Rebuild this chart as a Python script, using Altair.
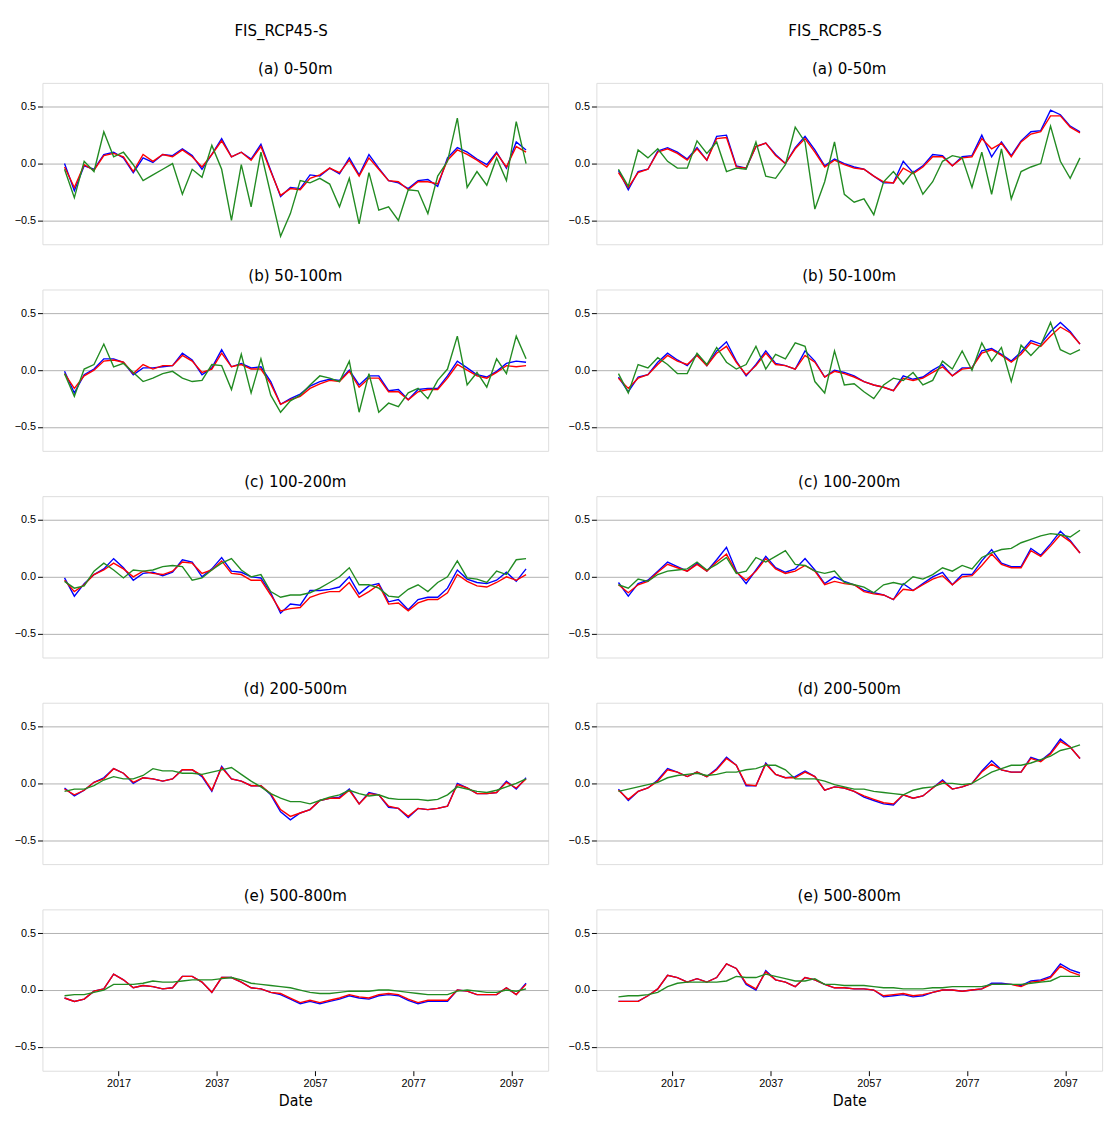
import altair as alt
import pandas as pd

years = list(range(2006, 2101, 2))

# RCP45 (left column)
r45_a_red = [-0.03, -0.21, -0.01, -0.06, 0.07, 0.09, 0.06, -0.07, 0.08, 0.02, 0.08, 0.06, 0.12, 0.06, -0.03, 0.08,
             0.2, 0.06, 0.1, 0.03, 0.15, -0.07, -0.28, -0.22, -0.23, -0.13, -0.1, -0.04, -0.08, 0.03, -0.11, 0.05,
             -0.05, -0.15, -0.16, -0.23, -0.16, -0.16, -0.18, 0.03, 0.12, 0.08, 0.03, -0.03, 0.09, -0.03, 0.15, 0.1]
r45_a_blue = [0.0, -0.24, -0.02, -0.05, 0.08, 0.1, 0.05, -0.08, 0.05, 0.01, 0.08, 0.07, 0.13, 0.07, -0.05, 0.08,
              0.22, 0.06, 0.1, 0.04, 0.17, -0.06, -0.29, -0.21, -0.22, -0.1, -0.11, -0.04, -0.09, 0.05, -0.1, 0.08,
              -0.04, -0.15, -0.17, -0.22, -0.15, -0.14, -0.2, 0.05, 0.14, 0.1, 0.04, -0.01, 0.1, -0.04, 0.19, 0.12]
r45_a_green = [-0.05, -0.3, 0.02, -0.07, 0.28, 0.06, 0.1, -0.01, -0.15, -0.1, -0.05, 0.0, -0.27, -0.05, -0.12, 0.16,
               -0.05, -0.5, -0.01, -0.38, 0.1, -0.27, -0.64, -0.44, -0.15, -0.17, -0.13, -0.18, -0.38, -0.13, -0.53,
               -0.08, -0.41, -0.38, -0.5, -0.23, -0.24, -0.44, -0.11, 0.02, 0.4, -0.21, -0.07, -0.19, 0.05, -0.15, 0.37, 0.0]

r45_b_red = [-0.03, -0.16, -0.05, 0.0, 0.08, 0.09, 0.07, -0.03, 0.05, 0.01, 0.04, 0.04, 0.13, 0.08, -0.02, 0.01,
             0.15, 0.03, 0.05, 0.01, 0.01, -0.12, -0.3, -0.26, -0.23, -0.16, -0.12, -0.09, -0.1, -0.01, -0.15, -0.07,
             -0.07, -0.19, -0.19, -0.26, -0.19, -0.17, -0.17, -0.07, 0.05, 0.0, -0.05, -0.07, -0.02, 0.04, 0.03, 0.04]
r45_b_blue = [-0.01, -0.2, -0.04, 0.01, 0.1, 0.1, 0.07, -0.04, 0.02, 0.02, 0.03, 0.04, 0.15, 0.09, -0.04, 0.02,
              0.18, 0.03, 0.06, 0.02, 0.03, -0.1, -0.3, -0.25, -0.21, -0.14, -0.1, -0.08, -0.09, 0.0, -0.13, -0.05,
              -0.05, -0.18, -0.17, -0.26, -0.17, -0.16, -0.16, -0.05, 0.08, 0.02, -0.04, -0.06, -0.01, 0.06, 0.08, 0.07]
r45_b_green = [-0.03, -0.23, 0.01, 0.05, 0.23, 0.03, 0.06, -0.02, -0.1, -0.07, -0.03, -0.01, -0.07, -0.1, -0.09, 0.05,
               0.04, -0.17, 0.14, -0.2, 0.1, -0.22, -0.37, -0.27, -0.22, -0.13, -0.05, -0.07, -0.1, 0.08, -0.37, -0.03,
               -0.37, -0.29, -0.32, -0.2, -0.16, -0.25, -0.09, 0.01, 0.3, -0.13, -0.02, -0.15, 0.1, -0.03, 0.3, 0.1]

r45_c_red = [-0.03, -0.13, -0.07, 0.02, 0.06, 0.12, 0.07, 0.0, 0.05, 0.03, 0.02, 0.05, 0.13, 0.12, 0.03, 0.06,
             0.14, 0.03, 0.02, -0.03, -0.03, -0.16, -0.3, -0.28, -0.27, -0.18, -0.15, -0.13, -0.13, -0.05, -0.18, -0.13,
             -0.07, -0.24, -0.23, -0.3, -0.23, -0.2, -0.2, -0.14, 0.02, -0.04, -0.08, -0.09, -0.05, 0.0, -0.03, 0.02]
r45_c_blue = [-0.01, -0.17, -0.06, 0.02, 0.07, 0.16, 0.08, -0.03, 0.03, 0.04, 0.01, 0.04, 0.15, 0.13, 0.0, 0.07,
              0.17, 0.05, 0.04, 0.0, -0.01, -0.14, -0.32, -0.24, -0.25, -0.12, -0.12, -0.11, -0.09, 0.0, -0.15, -0.08,
              -0.06, -0.22, -0.2, -0.29, -0.2, -0.18, -0.18, -0.1, 0.06, -0.02, -0.05, -0.06, -0.03, 0.04, -0.04, 0.07]
r45_c_green = [-0.04, -0.1, -0.08, 0.05, 0.12, 0.06, -0.01, 0.06, 0.05, 0.06, 0.09, 0.1, 0.09, -0.03, -0.01, 0.06,
               0.12, 0.16, 0.06, 0.0, 0.02, -0.13, -0.18, -0.16, -0.16, -0.14, -0.1, -0.05, 0.0, 0.08, -0.07, -0.07,
               -0.1, -0.17, -0.18, -0.11, -0.07, -0.13, -0.05, 0.0, 0.14, -0.01, -0.02, -0.05, 0.05, 0.02, 0.15, 0.16]

r45_d_red = [-0.05, -0.1, -0.06, 0.01, 0.04, 0.13, 0.09, 0.01, 0.05, 0.04, 0.02, 0.04, 0.12, 0.12, 0.07, -0.06,
             0.14, 0.04, 0.02, -0.02, -0.02, -0.09, -0.23, -0.29, -0.26, -0.23, -0.15, -0.13, -0.13, -0.06, -0.18, -0.09,
             -0.1, -0.2, -0.22, -0.29, -0.22, -0.23, -0.22, -0.2, -0.01, -0.04, -0.09, -0.09, -0.08, 0.01, -0.04, 0.04]
r45_d_blue = [-0.04, -0.11, -0.06, 0.01, 0.05, 0.13, 0.09, 0.0, 0.05, 0.04, 0.02, 0.04, 0.12, 0.12, 0.06, -0.07,
              0.15, 0.04, 0.02, -0.02, -0.02, -0.1, -0.25, -0.32, -0.26, -0.23, -0.15, -0.13, -0.12, -0.05, -0.18, -0.08,
              -0.1, -0.21, -0.22, -0.3, -0.22, -0.23, -0.22, -0.2, 0.0, -0.04, -0.09, -0.09, -0.08, 0.02, -0.05, 0.05]
r45_d_green = [-0.07, -0.05, -0.05, -0.02, 0.03, 0.06, 0.04, 0.04, 0.07, 0.13, 0.11, 0.11, 0.09, 0.09, 0.08, 0.1,
               0.12, 0.14, 0.08, 0.02, -0.03, -0.09, -0.13, -0.16, -0.16, -0.18, -0.15, -0.12, -0.1, -0.06, -0.09, -0.11,
               -0.1, -0.13, -0.14, -0.14, -0.14, -0.15, -0.14, -0.1, -0.03, -0.05, -0.07, -0.08, -0.06, -0.03, 0.0, 0.04]

r45_e_red = [-0.07, -0.1, -0.08, -0.01, 0.01, 0.14, 0.09, 0.02, 0.04, 0.03, 0.01, 0.02, 0.12, 0.12, 0.07, -0.02,
             0.11, 0.11, 0.07, 0.02, 0.01, -0.02, -0.03, -0.07, -0.11, -0.09, -0.11, -0.09, -0.07, -0.04, -0.06, -0.07,
             -0.04, -0.03, -0.04, -0.08, -0.11, -0.09, -0.09, -0.09, 0.0, -0.01, -0.04, -0.04, -0.04, 0.02, -0.04, 0.05]
r45_e_blue = [-0.07, -0.1, -0.08, -0.01, 0.01, 0.14, 0.09, 0.02, 0.04, 0.03, 0.01, 0.02, 0.12, 0.12, 0.07, -0.02,
              0.11, 0.11, 0.07, 0.02, 0.01, -0.02, -0.04, -0.08, -0.12, -0.1, -0.12, -0.1, -0.08, -0.05, -0.07, -0.08,
              -0.05, -0.04, -0.05, -0.09, -0.12, -0.1, -0.1, -0.1, 0.0, -0.01, -0.04, -0.04, -0.04, 0.02, -0.04, 0.06]
r45_e_green = [-0.05, -0.04, -0.04, -0.02, 0.0, 0.05, 0.05, 0.05, 0.06, 0.08, 0.07, 0.07, 0.08, 0.09, 0.09, 0.09,
               0.1, 0.11, 0.09, 0.06, 0.05, 0.04, 0.03, 0.02, 0.0, -0.02, -0.03, -0.03, -0.02, -0.01, -0.01, -0.01,
               0.0, 0.0, -0.01, -0.02, -0.03, -0.04, -0.04, -0.04, -0.01, 0.0, -0.01, -0.02, -0.02, 0.0, -0.01, 0.01]

# RCP85 (right column)
r85_a_red = [-0.08, -0.21, -0.08, -0.05, 0.1, 0.13, 0.09, 0.03, 0.13, 0.03, 0.22, 0.23, -0.03, -0.04, 0.15, 0.18,
             0.07, 0.0, 0.13, 0.22, 0.1, -0.03, 0.03, -0.01, -0.04, -0.05, -0.11, -0.16, -0.17, -0.04, -0.09, -0.03,
             0.06, 0.06, -0.02, 0.05, 0.06, 0.22, 0.13, 0.18, 0.06, 0.19, 0.26, 0.28, 0.42, 0.42, 0.32, 0.27]
r85_a_blue = [-0.06, -0.23, -0.07, -0.05, 0.11, 0.14, 0.1, 0.04, 0.14, 0.03, 0.24, 0.25, -0.02, -0.04, 0.15, 0.18,
              0.08, 0.0, 0.14, 0.24, 0.12, -0.02, 0.04, 0.0, -0.03, -0.05, -0.11, -0.17, -0.17, 0.02, -0.08, -0.02,
              0.08, 0.07, -0.02, 0.06, 0.07, 0.25, 0.06, 0.19, 0.07, 0.2, 0.28, 0.29, 0.47, 0.43, 0.33, 0.28]
r85_a_green = [-0.05, -0.2, 0.12, 0.05, 0.13, 0.02, -0.04, -0.04, 0.2, 0.09, 0.19, -0.07, -0.04, -0.05, 0.19, -0.11,
               -0.13, -0.01, 0.32, 0.19, -0.4, -0.16, 0.19, -0.27, -0.34, -0.31, -0.45, -0.16, -0.07, -0.18, -0.07, -0.27,
               -0.16, 0.02, 0.07, 0.05, -0.21, 0.1, -0.27, 0.13, -0.31, -0.07, -0.03, 0.0, 0.33, 0.02, -0.13, 0.05]

r85_b_red = [-0.07, -0.16, -0.07, -0.04, 0.05, 0.13, 0.08, 0.05, 0.13, 0.04, 0.15, 0.21, 0.07, -0.04, 0.04, 0.15,
             0.05, 0.04, 0.01, 0.13, 0.07, -0.06, -0.01, -0.03, -0.06, -0.1, -0.13, -0.15, -0.18, -0.07, -0.09, -0.07,
             -0.02, 0.03, -0.05, 0.01, 0.02, 0.15, 0.18, 0.13, 0.07, 0.14, 0.24, 0.21, 0.3, 0.38, 0.33, 0.23]
r85_b_blue = [-0.06, -0.19, -0.06, -0.04, 0.07, 0.15, 0.09, 0.04, 0.14, 0.04, 0.17, 0.25, 0.08, -0.05, 0.05, 0.17,
              0.06, 0.04, 0.01, 0.17, 0.08, -0.06, 0.0, -0.02, -0.05, -0.1, -0.13, -0.15, -0.18, -0.05, -0.08, -0.06,
              0.0, 0.05, -0.05, 0.02, 0.02, 0.17, 0.19, 0.14, 0.08, 0.16, 0.26, 0.23, 0.34, 0.42, 0.34, 0.23]
r85_b_green = [-0.03, -0.2, 0.05, 0.02, 0.11, 0.05, -0.03, -0.03, 0.15, 0.05, 0.2, 0.07, 0.01, 0.05, 0.21, 0.01,
               0.14, 0.1, 0.24, 0.21, -0.1, -0.2, 0.17, -0.13, -0.12, -0.19, -0.25, -0.13, -0.07, -0.09, -0.02, -0.13,
               -0.09, 0.08, 0.01, 0.17, 0.0, 0.24, 0.08, 0.2, -0.1, 0.22, 0.13, 0.22, 0.42, 0.18, 0.14, 0.18]

r85_c_red = [-0.07, -0.14, -0.07, -0.04, 0.04, 0.11, 0.08, 0.05, 0.11, 0.05, 0.13, 0.2, 0.04, -0.03, 0.05, 0.16,
             0.07, 0.03, 0.05, 0.1, 0.05, -0.07, -0.04, -0.06, -0.07, -0.13, -0.15, -0.16, -0.2, -0.11, -0.12, -0.07,
             -0.02, 0.01, -0.07, 0.0, 0.01, 0.1, 0.2, 0.11, 0.08, 0.08, 0.23, 0.18, 0.27, 0.37, 0.31, 0.21]
r85_c_blue = [-0.05, -0.17, -0.06, -0.03, 0.05, 0.13, 0.09, 0.05, 0.12, 0.05, 0.15, 0.26, 0.05, -0.06, 0.06, 0.18,
              0.08, 0.04, 0.07, 0.16, 0.06, -0.06, 0.0, -0.04, -0.07, -0.12, -0.14, -0.16, -0.2, -0.06, -0.12, -0.06,
              0.0, 0.04, -0.07, 0.02, 0.02, 0.14, 0.24, 0.12, 0.09, 0.09, 0.25, 0.19, 0.29, 0.4, 0.32, 0.21]
r85_c_green = [-0.07, -0.1, -0.02, -0.04, 0.02, 0.05, 0.06, 0.07, 0.13, 0.06, 0.11, 0.17, 0.03, 0.05, 0.17, 0.13,
               0.18, 0.23, 0.11, 0.1, 0.05, 0.03, 0.05, -0.05, -0.07, -0.09, -0.14, -0.07, -0.05, -0.07, 0.0, -0.02,
               0.02, 0.08, 0.05, 0.1, 0.07, 0.17, 0.21, 0.24, 0.25, 0.3, 0.33, 0.36, 0.38, 0.37, 0.35, 0.41]

r85_d_red = [-0.06, -0.14, -0.07, -0.04, 0.02, 0.12, 0.1, 0.06, 0.1, 0.06, 0.12, 0.22, 0.16, -0.01, -0.02, 0.17,
             0.08, 0.05, 0.05, 0.1, 0.06, -0.06, -0.03, -0.04, -0.07, -0.11, -0.14, -0.17, -0.18, -0.1, -0.13, -0.11,
             -0.04, 0.02, -0.05, -0.03, 0.0, 0.1, 0.17, 0.12, 0.1, 0.1, 0.22, 0.19, 0.26, 0.37, 0.32, 0.22]
r85_d_blue = [-0.05, -0.15, -0.07, -0.04, 0.03, 0.13, 0.1, 0.06, 0.1, 0.06, 0.13, 0.23, 0.16, -0.02, -0.02, 0.18,
              0.08, 0.05, 0.06, 0.11, 0.06, -0.06, -0.03, -0.04, -0.07, -0.12, -0.15, -0.18, -0.19, -0.1, -0.13, -0.11,
              -0.04, 0.03, -0.05, -0.03, 0.0, 0.11, 0.2, 0.12, 0.1, 0.1, 0.23, 0.2, 0.27, 0.39, 0.32, 0.22]
r85_d_green = [-0.07, -0.05, -0.03, -0.01, 0.01, 0.05, 0.07, 0.08, 0.09, 0.07, 0.08, 0.1, 0.1, 0.12, 0.13, 0.16,
               0.16, 0.12, 0.04, 0.04, 0.04, 0.02, -0.01, -0.03, -0.05, -0.05, -0.07, -0.08, -0.09, -0.1, -0.06, -0.04,
               -0.03, 0.0, 0.0, -0.01, 0.0, 0.05, 0.1, 0.13, 0.16, 0.16, 0.18, 0.21, 0.24, 0.29, 0.31, 0.34]

r85_e_red = [-0.1, -0.1, -0.1, -0.05, 0.01, 0.13, 0.11, 0.07, 0.1, 0.07, 0.11, 0.23, 0.19, 0.06, 0.01, 0.16,
             0.09, 0.07, 0.03, 0.11, 0.09, 0.05, 0.02, 0.02, 0.01, 0.01, 0.0, -0.05, -0.04, -0.03, -0.05, -0.04,
             -0.02, 0.0, 0.0, -0.01, 0.0, 0.01, 0.05, 0.05, 0.05, 0.03, 0.07, 0.08, 0.11, 0.21, 0.16, 0.13]
r85_e_blue = [-0.1, -0.1, -0.1, -0.05, 0.01, 0.13, 0.11, 0.07, 0.1, 0.07, 0.11, 0.23, 0.19, 0.05, 0.0, 0.17,
              0.09, 0.07, 0.03, 0.11, 0.09, 0.05, 0.02, 0.02, 0.01, 0.01, 0.0, -0.06, -0.05, -0.04, -0.06, -0.05,
              -0.02, 0.0, 0.0, -0.01, 0.0, 0.01, 0.06, 0.06, 0.05, 0.04, 0.08, 0.09, 0.12, 0.23, 0.18, 0.15]
r85_e_green = [-0.06, -0.05, -0.05, -0.04, -0.02, 0.03, 0.06, 0.07, 0.07, 0.07, 0.07, 0.08, 0.12, 0.11, 0.11, 0.14,
               0.12, 0.1, 0.08, 0.08, 0.1, 0.05, 0.05, 0.04, 0.04, 0.04, 0.03, 0.02, 0.02, 0.01, 0.01, 0.01,
               0.02, 0.02, 0.03, 0.03, 0.03, 0.03, 0.05, 0.05, 0.05, 0.05, 0.06, 0.07, 0.08, 0.12, 0.12, 0.12]

depth_titles = ["(a) 0-50m", "(b) 50-100m", "(c) 100-200m", "(d) 200-500m", "(e) 500-800m"]
scenarios = {
    "FIS_RCP45-S": [
        (r45_a_blue, r45_a_red, r45_a_green), (r45_b_blue, r45_b_red, r45_b_green),
        (r45_c_blue, r45_c_red, r45_c_green), (r45_d_blue, r45_d_red, r45_d_green),
        (r45_e_blue, r45_e_red, r45_e_green),
    ],
    "FIS_RCP85-S": [
        (r85_a_blue, r85_a_red, r85_a_green), (r85_b_blue, r85_b_red, r85_b_green),
        (r85_c_blue, r85_c_red, r85_c_green), (r85_d_blue, r85_d_red, r85_d_green),
        (r85_e_blue, r85_e_red, r85_e_green),
    ],
}
tick_years = [2017, 2037, 2057, 2077, 2097]
FONT = "DejaVu Sans Condensed"


def panel(title, blue, red, green, bottom):
    df = pd.DataFrame({"year": years, "blue": blue, "red": red, "green": green})
    if bottom:
        xaxis = alt.Axis(values=tick_years, format="d", grid=False, title="Date", labelFontSize=11,
                         titleFontSize=16, titleFont=FONT, titleFontWeight="normal", labelColor="#000",
                         tickColor="#000", domain=False, titlePadding=4)
    else:
        xaxis = alt.Axis(values=tick_years, labels=False, ticks=False, grid=False, title=None, domain=False)
    base = alt.Chart(df).transform_fold(["blue", "red", "green"], as_=["series", "value"])
    return base.mark_line(strokeWidth=1.4).encode(
        x=alt.X("year:Q", scale=alt.Scale(domain=[2001.5, 2104.5], nice=False), axis=xaxis),
        y=alt.Y("value:Q", scale=alt.Scale(domain=[-0.71, 0.71], nice=False),
                axis=alt.Axis(values=[-0.5, 0, 0.5], format=".1f", title=None, labelFontSize=11,
                              gridColor="#b0b0b0", domain=False, tickColor="#000", labelColor="#000")),
        color=alt.Color("series:N", scale=alt.Scale(domain=["blue", "red", "green"],
                                                    range=["#0000ff", "#ff0000", "#228b22"]), legend=None),
        detail="series:N",
    ).properties(width=514, height=164,
                 title=alt.TitleParams(title, font=FONT, fontSize=17, fontWeight="normal", color="#000", offset=5))


columns = []
for name, rows in scenarios.items():
    panels = [panel(depth_titles[i], *rows[i], bottom=(i == 4)) for i in range(5)]
    columns.append(alt.vconcat(*panels, spacing=21).properties(
        title=alt.TitleParams(name, font=FONT, fontSize=17, fontWeight="normal", color="#000",
                              anchor="middle", offset=20)))

chart = alt.hconcat(*columns, spacing=18).configure_view(stroke="#333", strokeWidth=1).configure(background="white")
chart.save("out.html", embed_options={"renderer": "svg", "actions": False})
